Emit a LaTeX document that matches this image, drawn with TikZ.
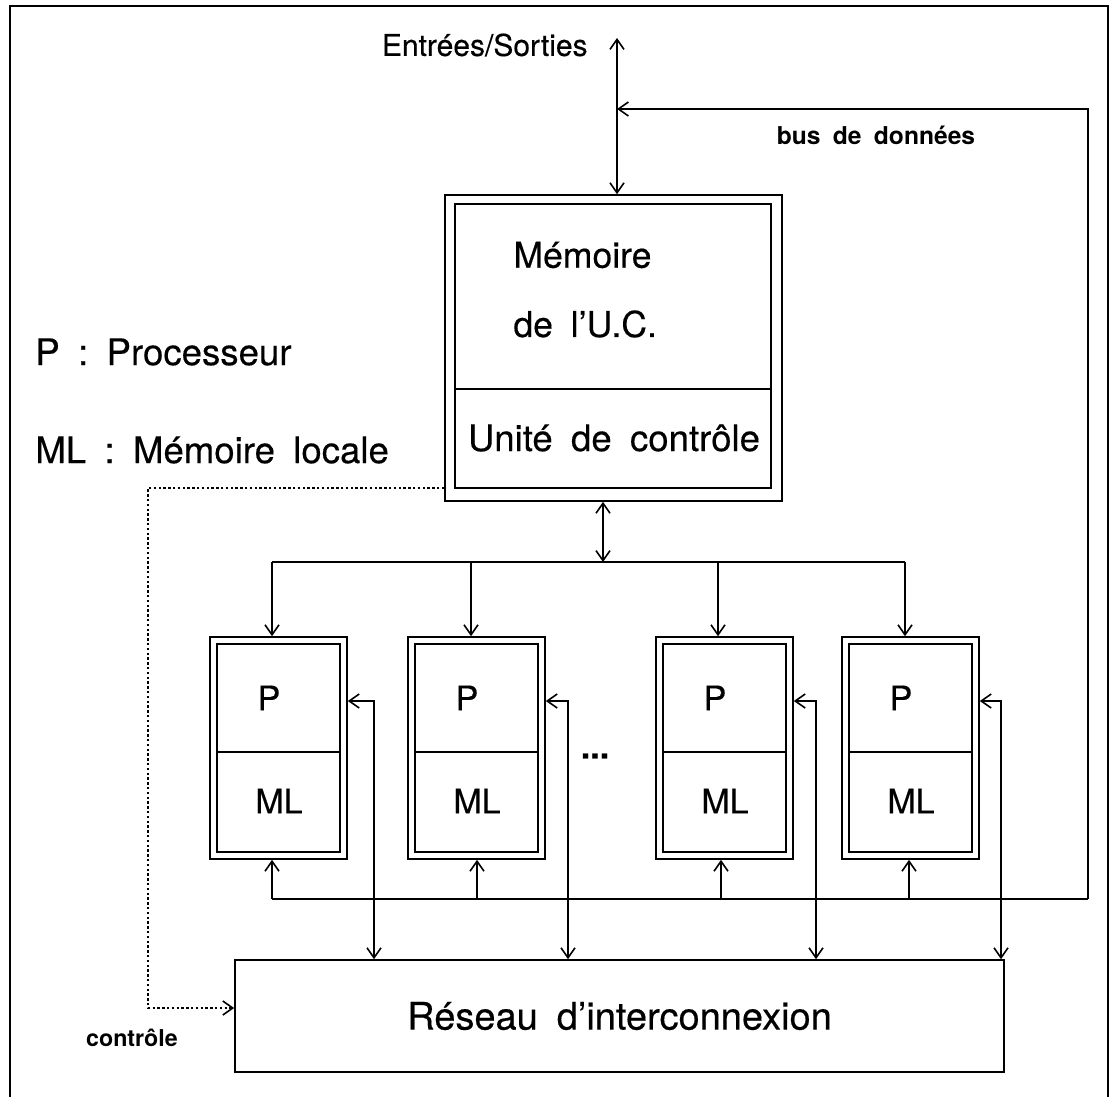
\documentclass[tikz,border=0pt]{standalone}
\usepackage{fontspec}
\setmainfont{TeX Gyre Heros}
\newfontfamily\heavyfont[FakeBold=0.35]{TeX Gyre Heros}
\usetikzlibrary{arrows.meta}

% Fonts: Helvetica-like, slightly heavy, with generous word spacing
\newcommand{\bigtxt}[1]{\heavyfont\fontsize{#1}{21}\selectfont\spaceskip=0.5em plus 0.1em\relax}
\newcommand{\petxt}{\heavyfont\fontsize{17}{20}\selectfont}
\newcommand{\midtxt}{\heavyfont\fontsize{15}{18}\selectfont}
\newcommand{\smalltxt}[1]{\fontsize{#1}{14}\selectfont\bfseries\spaceskip=0.5em\relax}

\tikzset{
  wire/.style={line width=0.8pt},
  box/.style={draw, line width=0.8pt, rectangle, inner sep=0pt},
  txt/.style={inner sep=0pt, font=\bigtxt{17.8}},
  legend/.style={inner sep=0pt, font=\bigtxt{18.3}},
  tip/.style={wire, -{Straight Barb[length=5pt,width=7pt,line width=0.8pt]}},
  twotips/.style={wire, {Straight Barb[length=5pt,width=7pt,line width=0.8pt]}-{Straight Barb[length=5pt,width=7pt,line width=0.8pt]}},
  ctrlline/.style={line width=0.8pt, dash pattern=on 1.2pt off 1.2pt, -{Straight Barb[length=5pt,width=7pt,line width=0.8pt]}},
  frame/.style={line width=1.4pt}
}

\begin{document}
\begin{tikzpicture}[x=0.5pt, y=-0.5pt]
  \useasboundingbox (0,0) rectangle (1111,1097);

  % outer frame (open at the bottom)
  \draw[frame] (10,1097) -- (10,6) -- (1108,6) -- (1108,1097);

  % central unit: outer box, memory part and control part
  \node[box, minimum width=168.5pt, minimum height=153pt] (cu) at (613.5,348) {};
  \node[box, minimum width=158pt, minimum height=92.5pt] (mem) at (613,296.5) {};
  \node[box, minimum width=158pt, minimum height=49.5pt] (uc) at (613,438.5) {};
  \node[txt, anchor=west] (memA) at (513,255) {Mémoire};
  \node[txt, anchor=west] (memB) at (513,324) {de l’U.C.};
  \node[legend] (ucT) at (614,438) {Unité de contrôle};

  % legend
  \node[legend, anchor=west] (legP) at (35,352) {P : Processeur};
  \node[legend, anchor=west] (legML) at (35,450) {ML : Mémoire locale};

  % processing elements
  \foreach \i/\L in {1/210, 2/408, 3/656, 4/842} {
    \node[box, minimum width=68.5pt, minimum height=111pt] (pe\i) at (\L+68.5,748) {};
    \node[box, minimum width=61.5pt, minimum height=54pt] (pp\i) at (\L+68.5,698) {};
    \node[box, minimum width=61.5pt, minimum height=50pt] (ml\i) at (\L+68.5,802) {};
    \node[inner sep=0pt, font=\petxt] (pt\i) at (\L+59,698) {P};
    \node[inner sep=0pt, font=\petxt] (mlt\i) at (\L+69,801) {ML};
  }
  \node[inner sep=0pt, font=\petxt\bfseries] (dots) at (595,756) {...};

  % interconnection network
  \node[box, minimum width=384.5pt, minimum height=56pt, font=\bigtxt{19}] (net) at (619.5,1016) {Réseau d’interconnexion};

  % input/output link
  \coordinate (io) at (617,38);
  \node[inner sep=0pt, anchor=east, font=\midtxt] (ioT) at (588,45) {Entrées/Sorties};
  \draw[twotips] (io) -- (io |- cu.north);

  % distribution from the control unit to the processors
  \coordinate (dj) at (603,562);
  \coordinate (dL) at (272,562);
  \coordinate (dR) at (905,562);
  \draw[twotips] (cu.south -| dj) -- (dj);
  \draw[wire] (dL) -- (dR);
  \foreach \i/\x in {1/272, 2/471, 3/718, 4/905} {
    \coordinate (d\i) at (\x,562);
    \draw[tip] (d\i) -- (d\i |- pe\i.north);
  }

  % data bus
  \coordinate (bL) at (272,899);
  \coordinate (bR) at (1088,899);
  \coordinate (bT) at (1088,109);
  \draw[wire] (bL) -- (bR);
  \draw[tip] (bR) -- (bT) -- (bT -| io);
  \node[inner sep=0pt, font=\smalltxt{12.3}] (busT) at (876,135) {bus de données};
  \foreach \i/\x in {1/272, 2/477, 3/721, 4/909} {
    \coordinate (u\i) at (\x,899);
    \draw[tip] (u\i) -- (u\i |- pe\i.south);
  }

  % processor <-> network links
  \foreach \i/\x in {1/374, 2/568, 3/816, 4/1001} {
    \coordinate (f\i) at (\x,701);
    \draw[twotips] (pe\i.east |- f\i) -- (f\i) -- (f\i |- net.north);
  }

  % control line to the network
  \coordinate (c0) at (148,488);
  \coordinate (c1) at (148,1008);
  \draw[ctrlline] (cu.west |- c0) -- (c0) -- (c1) -- (c1 -| net.west);
  \node[inner sep=0pt, font=\smalltxt{11.6}] (ctrlT) at (132,1038) {contrôle};
\end{tikzpicture}
\end{document}
